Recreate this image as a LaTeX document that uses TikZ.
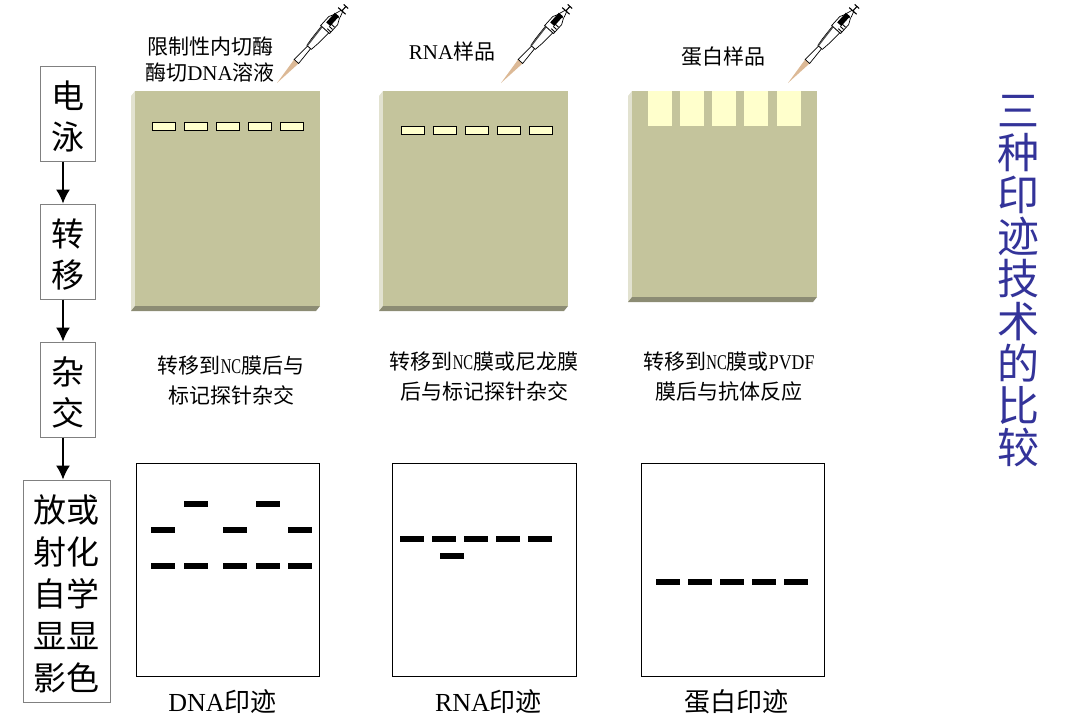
\documentclass[tikz,border=0pt]{standalone}
\usepackage{fontspec}
\setmainfont{Noto Sans CJK SC}
\newfontfamily\lat{Liberation Serif}
\usetikzlibrary{arrows.meta}
\definecolor{gelgreen}{HTML}{C4C49C}
\definecolor{gellight}{HTML}{E2E2D0}
\definecolor{geldark}{HTML}{8C8C74}
\definecolor{slotfill}{HTML}{FFFFCC}
\definecolor{titleblue}{HTML}{333399}
\tikzset{
  stepbox/.style={draw=gray, line width=1pt, inner sep=0pt},
  steptext/.style={align=center, inner sep=0pt, yshift=-3pt, font=\fontsize{33}{41}\selectfont},
  flow/.style={-{Latex[length=14pt,width=14pt]}, line width=1.3pt},
  samplelabel/.style={align=center, inner sep=0pt, font=\fontsize{21}{26}\selectfont},
  caption/.style={align=center, inner sep=0pt, font=\fontsize{21}{30}\selectfont},
  blotname/.style={inner sep=0pt, font=\fontsize{26}{30}\selectfont},
  blotbox/.style={draw=black, line width=0.9pt, fill=white},
  pipette/.pic={
    \fill [brown!55!white] (0,0) -- (29,-3) -- (29,3) -- cycle;
    \draw [line width=0.7pt, fill=white] (29,-3) -- (48,-2) -- (48,2) -- (29,3) -- cycle;
    \draw [line width=0.7pt, fill=white] (48,-3) -- (56,-4) -- (72,-5) -- (72,5) -- (56,4) -- (48,3) -- cycle;
    \fill [black!70] (48,-3) -- (72,-5) -- (72,-3.5) -- (48,-1.8) -- cycle;
    \draw [line width=0.7pt, fill=white] (72,-6) -- (84,-6) -- (90,-3) -- (90,3) -- (84,6) -- (72,6) -- cycle;
    \foreach \g in {74,77,80}
    \draw [line width=0.9pt] (\g,1) -- (\g,5.5);
    \fill (78,-4) rectangle (91,1.5);
    \draw [line width=0.7pt] (91,-3) -- (97,-1) -- (97,1) -- (91,3);
    \draw [line width=1.1pt] (97,-5) -- (97,5);
    \draw [line width=1.1pt] (97,0) -- (103,0);
    \draw [line width=1.1pt] (103,-3) -- (103,3);
  }
}
\begin{document}
\begin{tikzpicture}[x=1pt,y=-1pt]
    \useasboundingbox (0,0) rectangle (1066,726);
    % left column
    \node [stepbox, minimum width=55pt, minimum height=95pt, label={[steptext]center:电\\泳}] (dianyong) at (67.5,113.5) {};
    \node [stepbox, minimum width=55pt, minimum height=95pt, label={[steptext]center:转\\移}] (zhuanyi) at (67.5,251.5) {};
    \node [stepbox, minimum width=55pt, minimum height=95pt, label={[steptext]center:杂\\交}] (zajiao) at (67.5,389.5) {};
    \node [stepbox, minimum width=87pt, minimum height=222pt, label={[steptext, font=\fontsize{33}{42}\selectfont]center:放或\\射化\\自学\\显显\\影色}] (xianying) at (66.5,591) {};
    \draw [flow] ([xshift=-4.5pt]dianyong.south) -- ([xshift=-4.5pt]zhuanyi.north);
    \draw [flow] ([xshift=-4.5pt]zhuanyi.south) -- ([xshift=-4.5pt]zajiao.north);
    \draw [flow] ([xshift=-4.5pt]zajiao.south) -- ([xshift=-3.5pt]xianying.north);
    % gels
    \foreach \x/\b in {131/311,379/311,628/302} {
      \fill [gellight] (\x,96) -- (\x+4,91) -- (\x+4,\b-5) -- (\x,\b) -- cycle;
      \fill [geldark] (\x,\b) -- (\x+4,\b-5) -- (\x+189,\b-5) -- (\x+185,\b) -- cycle;
      \fill [gelgreen] (\x+4,91) rectangle (\x+189,\b-5);
    }
    \foreach \x in {152,184,216,248,280}
    \draw [line width=0.8pt, fill=slotfill] (\x,122) rectangle +(23,8);
    \foreach \x in {401,433,465,497,529}
    \draw [line width=0.8pt, fill=slotfill] (\x,126) rectangle +(23,8);
    \foreach \x in {648,680,712,744,777}
    \fill [slotfill] (\x,91) rectangle +(24,35);
    % pipettes
    \foreach \x in {277,501,788}
    \path (\x,83) pic [rotate=48] {pipette};
    % sample labels
    \node [samplelabel] (dnasample) at (210,60) {限制性内切酶\\酶切{\lat DNA}溶液};
    \node [samplelabel] (rnasample) at (452,51) {{\lat RNA}样品};
    \node [samplelabel] (protsample) at (723,57) {蛋白样品};
    % transfer captions
    \node [caption] (dnatext) at (231,380.5) {转移到{\lat\addfontfeature{FakeStretch=0.7}NC}膜后与\\标记探针杂交};
    \node [caption] (rnatext) at (484,377) {转移到{\lat\addfontfeature{FakeStretch=0.7}NC}膜或尼龙膜\\后与标记探针杂交};
    \node [caption] (prottext) at (729,377) {转移到{\lat\addfontfeature{FakeStretch=0.7}NC}膜或{\lat\addfontfeature{FakeStretch=0.85}PVDF}\\膜后与抗体反应};
    % blots
    \draw [blotbox] (136,463) rectangle (319,676);
    \draw [blotbox] (392,463) rectangle (576,676);
    \draw [blotbox] (641,463) rectangle (824,676);
    \foreach \x/\y in {184/504,256/504,151/530,223/530,288/530,151/566,184/566,223/566,256/566,288/566,400/539,432/539,464/539,496/539,528/539,440/556,656/582,688/582,720/582,752/582,784/582}
    \fill (\x,\y-3) rectangle +(24,6);
    % blot names
    \node [blotname] (dnablot) at (222.5,702) {{\lat DNA}印迹};
    \node [blotname] (rnablot) at (488.5,702) {{\lat RNA}印迹};
    \node [blotname] (protblot) at (736.5,702) {蛋白印迹};
    % title
    \node [align=center, inner sep=0pt, text=titleblue, font=\fontsize{42}{42.2}\selectfont] (title) at (1018,281) {三\\种\\印\\迹\\技\\术\\的\\比\\较};
\end{tikzpicture}
\end{document}
